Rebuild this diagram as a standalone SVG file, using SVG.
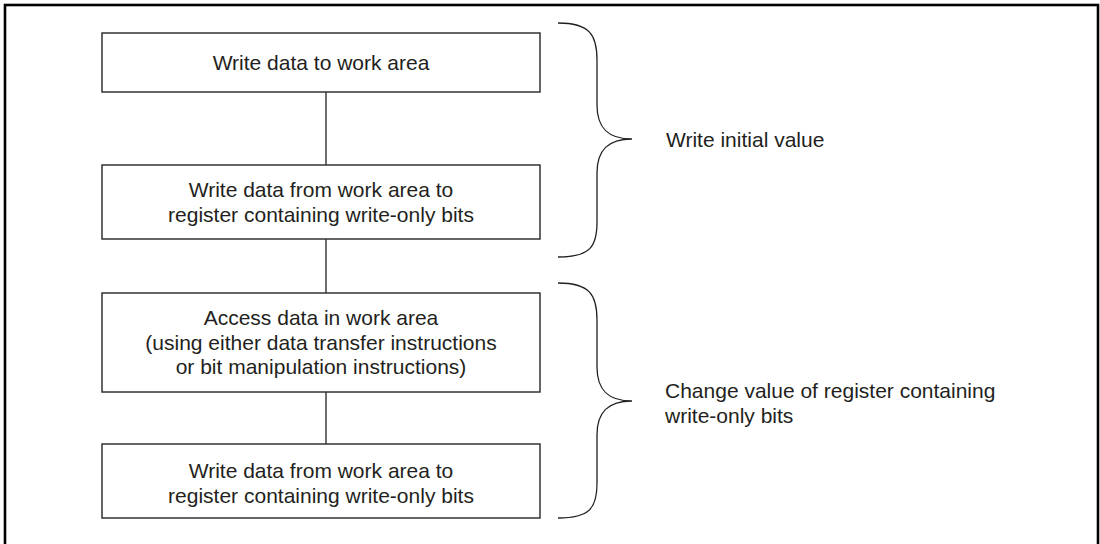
<svg xmlns="http://www.w3.org/2000/svg" width="1100" height="544" viewBox="0 0 1100 544">
<style>
.box{fill:#fff;stroke:#333;stroke-width:1.5}
.t{font-family:"Liberation Sans",Arial,sans-serif;font-size:21px;fill:#231f20}
.c{text-anchor:middle}
.ln{stroke:#231f20;stroke-width:1.3;fill:none}
.br{stroke:#231f20;stroke-width:1.3;fill:none}
</style>
<rect x="0" y="0" width="1100" height="544" fill="#fff"/>
<rect x="5" y="5" width="1093" height="560" fill="none" stroke="#000" stroke-width="2.6"/>
<g id="connectors">
<line class="ln" x1="326" y1="92" x2="326" y2="165"/>
<line class="ln" x1="326" y1="239" x2="326" y2="293"/>
<line class="ln" x1="326" y1="392" x2="326" y2="444"/>
</g>
<g id="n1">
<rect class="box" x="102" y="33" width="438" height="59"/>
<text class="t c" x="321" y="70">Write data to work area</text>
</g>
<g id="n2">
<rect class="box" x="102" y="165" width="438" height="74"/>
<text class="t c" x="321" y="197">Write data from work area to</text>
<text class="t c" x="321" y="222">register containing write-only bits</text>
</g>
<g id="n3">
<rect class="box" x="102" y="293" width="438" height="99"/>
<text class="t c" x="321" y="325">Access data in work area</text>
<text class="t c" x="321" y="349.5">(using either data transfer instructions</text>
<text class="t c" x="321" y="374">or bit manipulation instructions)</text>
</g>
<g id="n4">
<rect class="box" x="102" y="444" width="438" height="74"/>
<text class="t c" x="321" y="477.5">Write data from work area to</text>
<text class="t c" x="321" y="503">register containing write-only bits</text>
</g>
<g id="brace1">
<path class="br" d="M558,23 C590,23 597,35 597,60 L597,105 C597,128 608,139 632,139 C608,139 597,150 597,173 L597,222 C597,247 590,257 558,257"/>
<text class="t" x="666" y="147">Write initial value</text>
</g>
<g id="brace2">
<path class="br" d="M558,283 C590,283 597,295 597,320 L597,367 C597,390 608,401 632,401 C608,401 597,412 597,435 L597,483 C597,508 590,518 558,518"/>
<text class="t" x="665" y="398">Change value of register containing</text>
<text class="t" x="665" y="423">write-only bits</text>
</g>
</svg>
